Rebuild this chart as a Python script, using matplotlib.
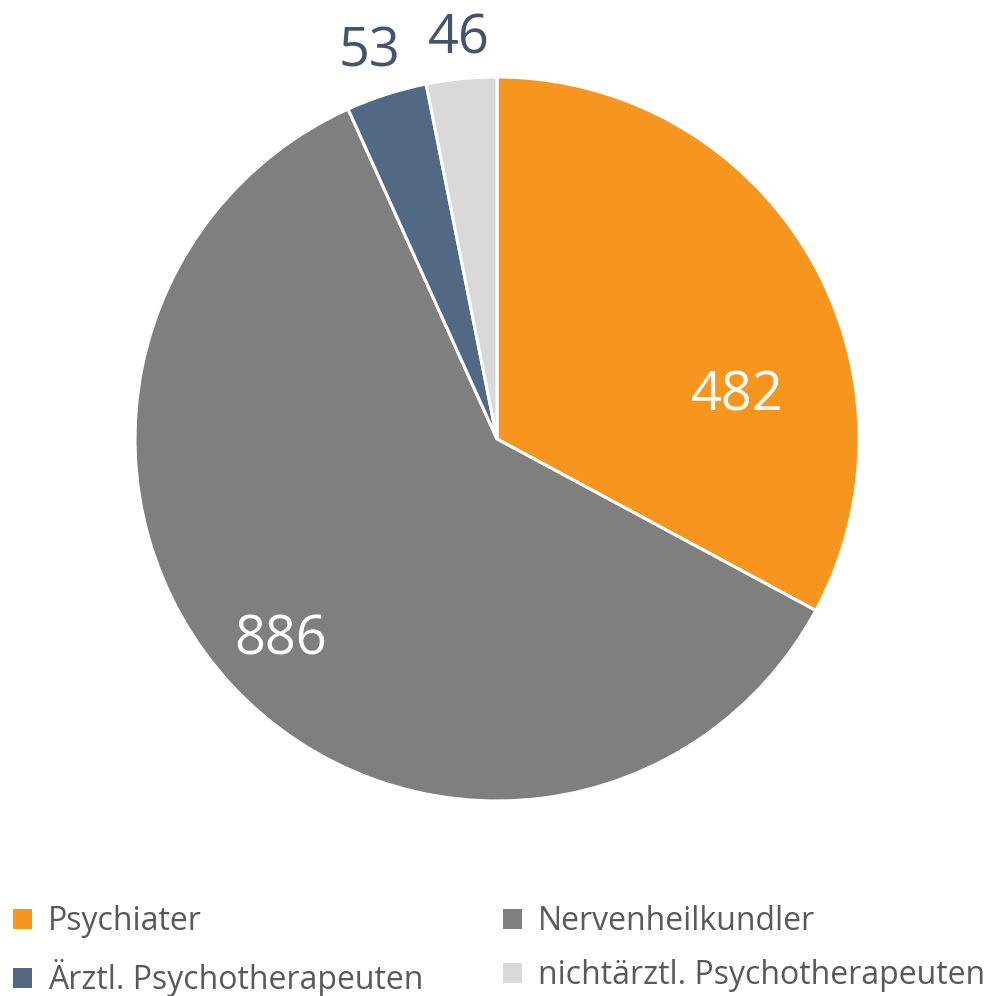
import matplotlib
matplotlib.use("Agg")
import matplotlib.pyplot as plt
from matplotlib.patches import Patch

categories = ["Psychiater", "Nervenheilkundler", "Ärztl. Psychotherapeuten", "nichtärztl. Psychotherapeuten"]
values = [482, 886, 53, 46]
colors = ["#F7961E", "#7F7F7F", "#526983", "#D9D9D9"]
label_colors = ["#FFFFFF", "#FFFFFF", "#44546A", "#44546A"]
# label positions (relative to pie radius) as placed by the original chart
label_pos = [(0.663, 0.12), (-0.599, -0.555), (-0.351, 1.07), (-0.105, 1.105)]

plt.rcParams["font.family"] = ["Open Sans", "DejaVu Sans"]

fig = plt.figure(figsize=(9.97, 9.96), dpi=100)
ax = fig.add_axes([0.1354, 0.1958, 0.7262, 0.7269])
wedges, _ = ax.pie(values, colors=colors, startangle=90, counterclock=False,
                   radius=1.0, wedgeprops=dict(edgecolor="white", linewidth=2.2))
ax.set_xlim(-1, 1)
ax.set_ylim(-1, 1)
ax.set_aspect("equal")
ax.axis("off")

for v, (x, y), c in zip(values, label_pos, label_colors):
    ax.text(x, y, str(v), ha="center", va="center", fontsize=39, color=c, clip_on=False)

# legend laid out row-wise like the original (matplotlib fills columns first)
order = [0, 2, 1, 3]
handles = [Patch(facecolor=colors[i], edgecolor="none") for i in order]
labels = [categories[i] for i in order]
leg = fig.legend(handles, labels, loc="lower left", bbox_to_anchor=(0.003, -0.011),
                 ncol=2, frameon=False, fontsize=23, labelcolor="#595959",
                 handlelength=0.6, handleheight=0.6, handletextpad=0.5,
                 columnspacing=2.5, labelspacing=0.66, borderaxespad=0.0, borderpad=0.3)

fig.savefig("out.png", dpi=100)
